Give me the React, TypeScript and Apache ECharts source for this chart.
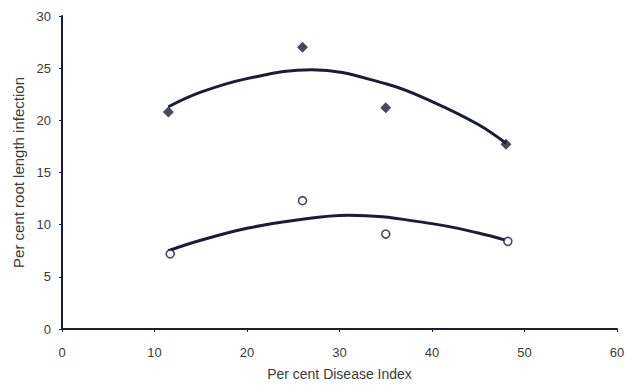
import React, { useEffect, useRef } from "react";
import * as echarts from "echarts";

const diamondX = [11.5, 26, 35, 48];
const diamondY = [20.8, 27.0, 21.2, 17.7];
const circleX = [11.7, 26, 35, 48.2];
const circleY = [7.2, 12.3, 9.1, 8.4];

const upperCurveX = [11.5, 15, 20, 27, 35, 40, 45, 48];
const upperCurveY = [21.3, 22.7, 24.0, 24.85, 23.5, 21.8, 19.6, 17.8];
const lowerCurveX = [11.5, 15, 20, 25, 31, 40, 45, 48];
const lowerCurveY = [7.5, 8.5, 9.65, 10.4, 10.9, 10.1, 9.2, 8.5];

const xTicks = [0, 10, 20, 30, 40, 50, 60];
const yTicks = [0, 5, 10, 15, 20, 25, 30];

const ink = "#1c1c36";
const textColor = "#3a3a3a";
const font = "'Liberation Sans', Arial, sans-serif";

export default function App() {
  const ref = useRef<HTMLDivElement>(null);
  useEffect(() => {
    if (!ref.current) return;
    const chart = echarts.init(ref.current, undefined, { renderer: "svg" });
    const pair = (xs: number[], ys: number[]) => xs.map((x, i) => [x, ys[i]]);
    chart.setOption({
      animation: false,
      backgroundColor: "#ffffff",
      grid: { left: 62, right: 22, top: 16, bottom: 63 },
      xAxis: {
        type: "value",
        min: xTicks[0],
        max: xTicks[xTicks.length - 1],
        interval: 10,
        name: "Per cent Disease Index",
        nameLocation: "middle",
        nameGap: 38,
        nameTextStyle: { color: textColor, fontSize: 14, fontFamily: font },
        axisLine: { show: true, lineStyle: { color: ink, width: 2 } },
        axisTick: { show: true, length: 3, lineStyle: { color: ink } },
        axisLabel: { color: textColor, fontSize: 13, fontFamily: font, margin: 17 },
        splitLine: { show: false },
      },
      yAxis: {
        type: "value",
        min: yTicks[0],
        max: yTicks[yTicks.length - 1],
        interval: 5,
        name: "Per cent root length infection",
        nameLocation: "middle",
        nameGap: 35,
        nameTextStyle: { color: textColor, fontSize: 15, fontFamily: font },
        axisLine: { show: true, lineStyle: { color: ink, width: 2 } },
        axisTick: { show: true, length: 3, lineStyle: { color: ink } },
        axisLabel: { color: textColor, fontSize: 13, fontFamily: font, margin: 11 },
        splitLine: { show: false },
      },
      series: [
        {
          type: "line",
          data: pair(upperCurveX, upperCurveY),
          smooth: 0.4,
          showSymbol: false,
          lineStyle: { color: ink, width: 3 },
          z: 2,
        },
        {
          type: "line",
          data: pair(lowerCurveX, lowerCurveY),
          smooth: 0.4,
          showSymbol: false,
          lineStyle: { color: ink, width: 3 },
          z: 2,
        },
        {
          type: "scatter",
          data: pair(diamondX, diamondY),
          symbol: "diamond",
          symbolSize: 11,
          itemStyle: { color: ink },
          z: 3,
        },
        {
          type: "scatter",
          data: pair(circleX, circleY),
          symbol: "circle",
          symbolSize: 8,
          itemStyle: { color: "#ffffff", borderColor: ink, borderWidth: 1.6 },
          z: 3,
        },
      ],
    });
    return () => chart.dispose();
  }, []);
  return <div ref={ref} style={{ width: 639, height: 392, marginLeft: -8, marginTop: -8 }} />;
}
